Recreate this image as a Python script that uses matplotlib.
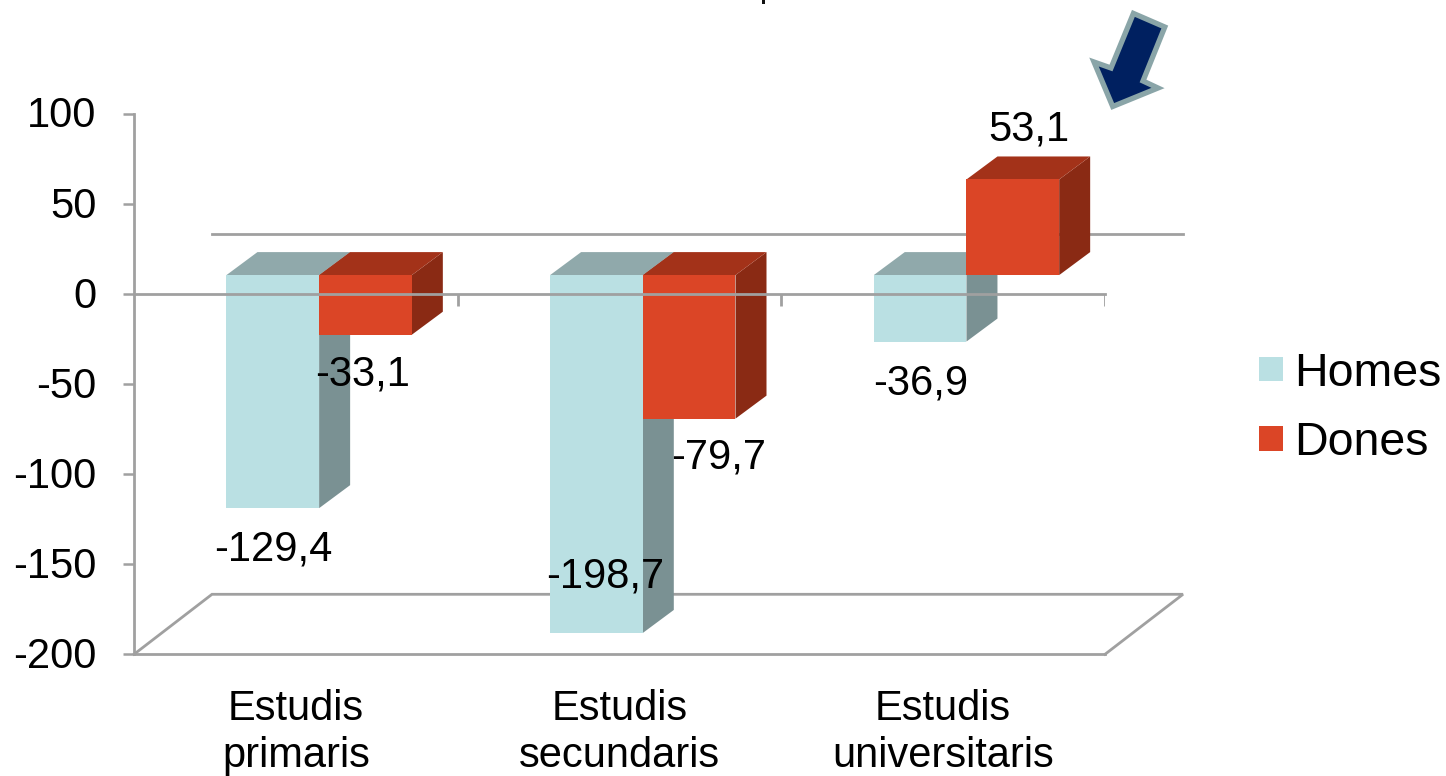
import matplotlib
matplotlib.use("Agg")
import matplotlib.pyplot as plt
from matplotlib.patches import Patch, Polygon, Rectangle
from matplotlib.transforms import Affine2D, ScaledTranslation

categories = ["Estudis\nprimaris", "Estudis\nsecundaris", "Estudis\nuniversitaris"]
homes = [-129.4, -198.7, -36.9]
dones = [-33.1, -79.7, 53.1]
series_names = ["Homes", "Dones"]
y_ticks = [100, 50, 0, -50, -100, -150, -200]

W, H = 1446, 776
plt.rcParams["font.family"] = ["Liberation Sans", "DejaVu Sans"]
GREY = "#A0A0A0"
fig = plt.figure(figsize=(W / 100, H / 100), dpi=100, facecolor="white")
ax = fig.add_axes([134 / W, 1 - 654.3 / H, (1105 - 134) / W, (654.3 - 114) / H])
ax.set_xlim(-0.5, 2.5)
ax.set_ylim(-200, 100)
ax.patch.set_visible(False)

ux = 323.67           # px per category
uy = 540.3 / 300      # px per value unit
bar_w = 92.7 / ux
group_shift = 23.3 / ux
dx, dy = 31 / ux, 23 / uy
base = 19 / uy        # front-face zero sits above the axis line
wall_dx, wall_dy = 78 / ux, 60 / uy

for s in ["top", "right"]:
    ax.spines[s].set_visible(False)
for s in ["left", "bottom"]:
    ax.spines[s].set_color(GREY)
    ax.spines[s].set_linewidth(2.0)
ax.set_yticks(y_ticks)
ax.set_yticklabels([str(v) for v in y_ticks], fontsize=30)
ax.tick_params(axis="y", length=8, width=1.8, color=GREY, pad=19)
for lab in ax.get_yticklabels():
    lab.set_transform(lab.get_transform() + ScaledTranslation(0, 2 / 100, fig.dpi_scale_trans))
ax.set_xticks(range(len(categories)))
ax.set_xticklabels(categories, fontsize=30, linespacing=1.23)
ax.tick_params(axis="x", length=0, pad=24.7)

# back wall and floor outlines
x0, x1 = ax.get_xlim()
ax.plot([x0, x0 + wall_dx, x1 + wall_dx, x1], [-200, -200 + wall_dy, -200 + wall_dy, -200],
        color=GREY, lw=2.0, clip_on=False, zorder=1, solid_joinstyle="miter")
ax.plot([x0 + wall_dx, x1 + wall_dx], [wall_dy, wall_dy],
        color=GREY, lw=2.0, clip_on=False, zorder=1)


def box(xl, v, front, side, top, z):
    lo, hi = sorted((base, base + v))
    xr = xl + bar_w
    ax.add_patch(Polygon([(xr, lo), (xr + dx, lo + dy), (xr + dx, hi + dy), (xr, hi)],
                         fc=side, ec="none", zorder=z, clip_on=False))
    ax.add_patch(Polygon([(xl, hi), (xr, hi), (xr + dx, hi + dy), (xl + dx, hi + dy)],
                         fc=top, ec="none", zorder=z, clip_on=False))
    ax.bar(xl, hi - lo, width=bar_w, bottom=lo, align="edge", color=front, zorder=z + 0.1)


HOME_C = ("#BAE0E3", "#7A9193", "#90A9AB")
DONA_C = ("#DB4526", "#8A2A14", "#A33219")
for i in range(len(categories)):
    centre = i + group_shift
    box(centre - bar_w, homes[i], *HOME_C, 2 + i * 0.01)
    box(centre, dones[i], *DONA_C, 3 + i * 0.01)

# zero line with its ticks, drawn over the bars
ax.plot([x0, x1], [0, 0], color=GREY, lw=2.0, zorder=5, clip_on=False)
ax.vlines([0.5, 1.5, 2.5], -12 / uy, 0, color=GREY, lw=2.0, zorder=5)

# data labels: offsets in px from the bar's front-face end and split point
offs = {
    "h": [(-46, -37), (-38, 61), (-46, -37)],
    "d": [(43, -35), (76, -34), (62, 54)],
}


def fmt(v):
    return f"{v:.1f}".replace(".", ",")


for i in range(len(categories)):
    centre = i + group_shift
    for key, vals in (("h", homes), ("d", dones)):
        v = vals[i]
        ax.annotate(fmt(v), (centre, base + v), xytext=offs[key][i], textcoords="offset pixels",
                    ha="center", va="center_baseline", fontsize=30, color="black", zorder=6,
                    annotation_clip=False)

leg = fig.legend(
    handles=[Patch(fc=HOME_C[0], ec="none"), Patch(fc=DONA_C[0], ec="none")],
    labels=series_names, loc="upper left", bbox_to_anchor=(1259 / W, 1 - 352 / H),
    fontsize=33.5, frameon=False, handlelength=0.51, handleheight=0.423,
    handletextpad=0.24, labelspacing=0.54, borderpad=0, borderaxespad=0,
)

# callout arrow, placed in pixel coordinates
px = Affine2D().scale(1, -1).translate(0, H)
arrow = [(1133.4, 13.4), (1164.8, 27), (1143, 81), (1158, 88), (1112.7, 106.5), (1094, 62), (1111, 68)]
fig.add_artist(Polygon(arrow, closed=True, fc="#002060", ec="#8AA5A8", lw=3.8,
                       joinstyle="miter", transform=px))

# the reference's title is cropped away by the top edge; only a sliver of a descender shows
fig.add_artist(Rectangle((761.5, 0), 3.5, 4, fc="#111111", ec="none", transform=px))

fig.savefig("out.png", dpi=100, facecolor="white")
